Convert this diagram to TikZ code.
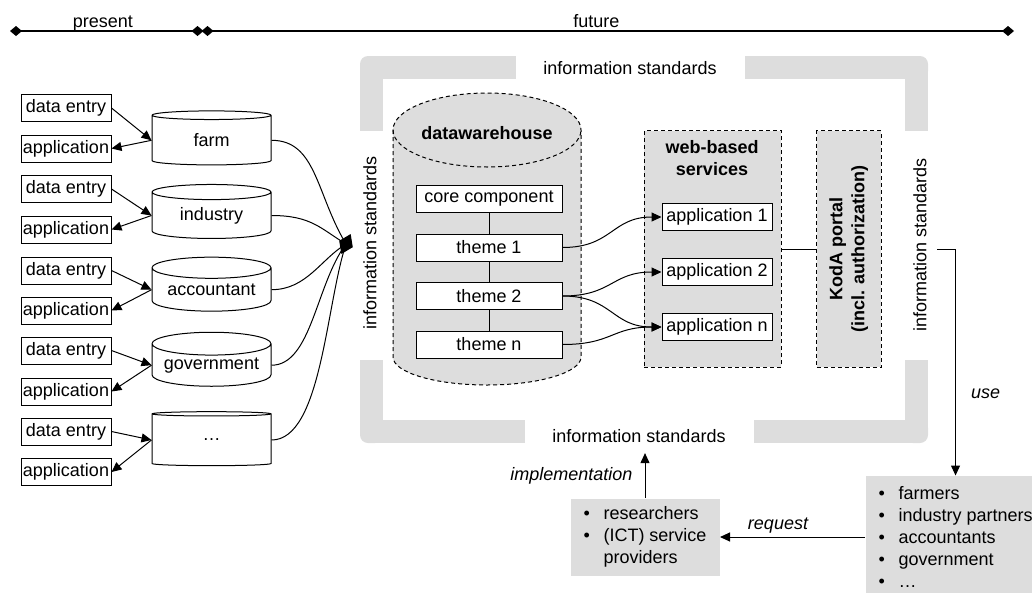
\documentclass[tikz,border=0pt]{standalone}
\usepackage{fontspec}
\setmainfont{Liberation Sans}
\usepackage{graphicx}
\usetikzlibrary{arrows.meta,shapes.geometric,calc}
\definecolor{panelgray}{HTML}{DDDDDD}
\newcommand{\bul}[1]{\makebox[20pt][l]{\textbullet}#1}

\begin{document}
\begin{tikzpicture}[x=1pt,y=-1pt,
  font=\fontsize{18pt}{22pt}\selectfont,
  every node/.style={inner sep=0pt},
  line width=1pt,
  tip/.style={-{Triangle[length=10pt,width=9pt]}},
  dmd/.tip={Diamond[length=12pt,width=10pt]},
  leftbox/.style={draw, fill=white, minimum width=90pt, minimum height=27pt},
  db/.style={cylinder, shape border rotate=90, draw, fill=white, aspect=0.24,
             minimum width=119pt, minimum height=54pt},
  inbox/.style={draw, fill=white, minimum width=146pt, minimum height=27pt},
  appbox/.style={draw, fill=white, minimum width=110pt, minimum height=27pt},
  panel/.style={draw, dash pattern=on 4pt off 3pt, fill=panelgray},
  stdlabel/.style={inner xsep=0pt, inner ysep=10pt},
  listbox/.style={fill=panelgray, align=left, inner xsep=13pt},
  note/.style={font=\fontsize{18pt}{22pt}\selectfont\itshape},
  boldtext/.style={font=\fontsize{18pt}{22pt}\selectfont\bfseries},
]
\useasboundingbox (0,0) rectangle (1032,592);

% time line
\coordinate (p0) at (10,31);
\coordinate (p1) at (203.5,31);
\coordinate (f0) at (201.5,31);
\coordinate (f1) at (1014,31);
\draw[line width=1.5pt, dmd-dmd] (p0) -- node[pos=0.48, anchor=base, yshift=4pt] (tpresent) {present} (p1);
\draw[line width=1.5pt, dmd-dmd] (f0) -- node[pos=0.486, anchor=base, yshift=4pt] (tfuture) {future} (f1);

% information standards frame (four corner brackets)
\begin{scope}[panelgray]
  \fill[rounded corners=8pt] (360,56) rectangle (383,79);
  \fill (375,56) rectangle (516,79);
  \fill (360,71) rectangle (383,131);
  \fill[rounded corners=8pt] (905,56) rectangle (928,79);
  \fill (745,56) rectangle (913,79);
  \fill (905,71) rectangle (928,131);
  \fill[rounded corners=8pt] (360,420) rectangle (383,443);
  \fill (360,360) rectangle (383,428);
  \fill (375,420) rectangle (525,443);
  \fill[rounded corners=8pt] (905,420) rectangle (928,443);
  \fill (905,360) rectangle (928,428);
  \fill (754,420) rectangle (913,443);
\end{scope}
\node[stdlabel] (isT) at (630,68) {information standards};
\node[stdlabel] (isB) at (639,436) {information standards};
\node[stdlabel, rotate=90] (isL) at (370,243) {information standards};
\node[stdlabel, rotate=90] (isR) at (920,245) {information standards};

% datawarehouse cylinder
\path[panel] (393,130) -- (393,357)
  arc[start angle=180, end angle=0, x radius=94, y radius=28] -- (581,130)
  arc[start angle=0, end angle=-180, x radius=94, y radius=37] -- cycle;
\draw[dash pattern=on 4pt off 3pt] (393,130) arc[start angle=180, end angle=0, x radius=94, y radius=37];
\node[boldtext] (dwhtitle) at (487,133) {datawarehouse};

\node[inbox] (core) at (489,199) {core component};
\node[inbox] (t1) at (489,247.5) {theme 1};
\node[inbox] (t2) at (489,296) {theme 2};
\node[inbox] (tn) at (489,344.5) {theme n};
\draw (core) -- (t1) (t1) -- (t2) (t2) -- (tn);

% web-based services
\node[panel, minimum width=137pt, minimum height=236.6pt] (web) at (712.5,249) {};
\node[boldtext, align=center] (webtitle) at (712,158) {web-based\\services};
\node[appbox] (a1) at (717,217) {application 1};
\node[appbox] (a2) at (717,272) {application 2};
\node[appbox] (an) at (717,327) {application n};

\draw[tip] (t1.east) .. controls +(50,0) and +(-50,0) .. (a1.west);
\draw[tip] (t2.east) .. controls +(50,0) and +(-50,0) .. (a2.west);
\draw[tip] (t2.east) .. controls +(50,0) and +(-50,0) .. (an.west);
\draw[tip] (tn.east) .. controls +(50,0) and +(-50,0) .. (an.west);

% portal
\node[panel, boldtext, minimum width=64.3pt, minimum height=236.6pt] (koda) at (849,249)
  {\rotatebox{90}{\begin{tabular}{@{}c@{}}KodA portal\\(incl. authorization)\end{tabular}}};
\draw (web.east) -- (koda.west);

% present-day sources
\node[leftbox] (de1) at (66,108) {data entry};
\node[leftbox] (ap1) at (66,148.5) {application};
\node[leftbox] (de2) at (66,189) {data entry};
\node[leftbox] (ap2) at (66,229.5) {application};
\node[leftbox] (de3) at (66,270.5) {data entry};
\node[leftbox] (ap3) at (66,310.5) {application};
\node[leftbox] (de4) at (66,350.5) {data entry};
\node[leftbox] (ap4) at (66,391.5) {application};
\node[leftbox] (de5) at (66,431.5) {data entry};
\node[leftbox] (ap5) at (66,472) {application};

\node[db] (farm) at (211.5,140.3) {farm};
\node[db] (industry) at (211.5,215.5) {industry};
\node[db] (accountant) at (211.5,289.7) {accountant};
\node[db] (government) at (211.5,365.2) {government};
\node[db] (other) at (211.5,440) {…};

\foreach \d/\a/\c in {de1/ap1/farm, de2/ap2/industry, de3/ap3/accountant,
                      de4/ap4/government, de5/ap5/other}{
  \draw[tip] (\d.east) -- (\c.180);
  \draw[tip] (\c.180) -- (\a.east);
}

% all sources merge into one hub
\coordinate (hub) at (346,244);
\draw (farm.0) .. controls +(45,0) and +(-30,-50) .. (hub);
\draw (industry.0) .. controls +(40,0) and +(-25,-15) .. (hub);
\draw (accountant.0) .. controls +(35,0) and +(-25,15) .. (hub);
\draw (government.0) .. controls +(40,0) and +(-30,40) .. (hub);
\draw (other.0) .. controls +(50,0) and +(-20,60) .. (hub);
\fill[shift={(hub)}, rotate=-25] (-7.5,0) -- (0,-11) -- (7.5,0) -- (0,11) -- cycle;

% stakeholders
\node[listbox, minimum height=122pt, anchor=west] (users) at (865,537)
  {\bul{farmers}\\\bul{industry partners}\\\bul{accountants}\\\bul{government}\\\bul{…}};
\node[listbox, minimum height=77pt, anchor=west] (res) at (570,537)
  {\bul{researchers}\\\bul{(ICT) service}\\\hspace*{20pt}providers};

\draw[tip] (isR.south |- koda.west) -| node[pos=0.82, right=15pt, note] (use) {use} (users.north);
\draw[tip] (users.west) -- node[pos=0.6, above=3pt, note] (req) {request} (res.east);
\draw[tip] (res.north) -- node[midway, left=12pt, note] (impl) {implementation} (res.north |- isB.south);
\end{tikzpicture}
\end{document}
